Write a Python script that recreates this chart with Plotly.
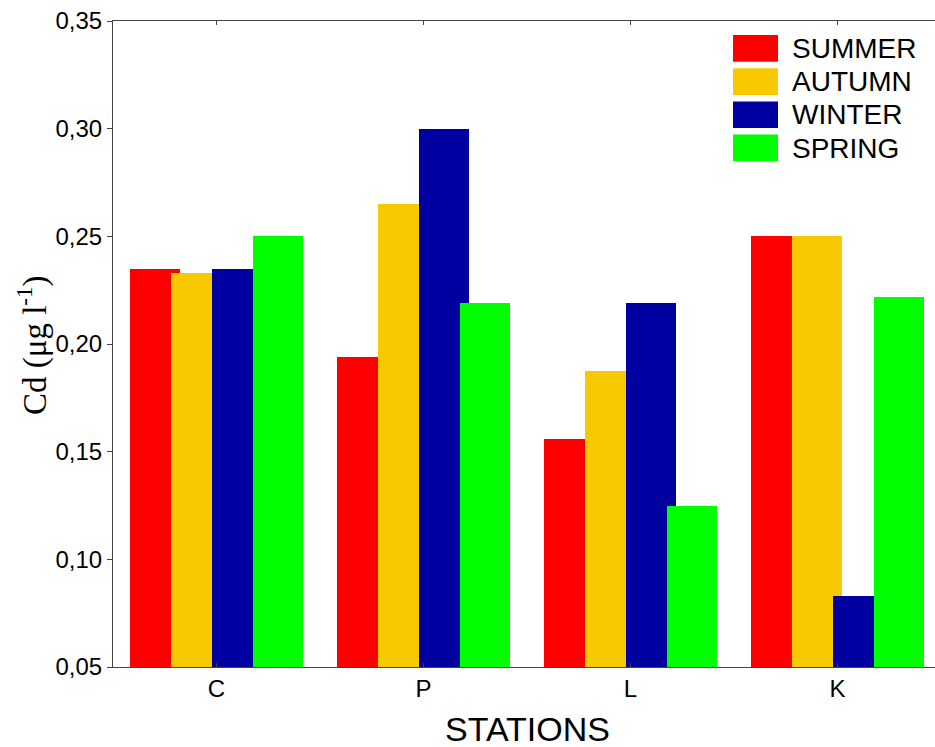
import plotly.graph_objects as go

stations = ["C", "P", "L", "K"]
seasons = ["SUMMER", "AUTUMN", "WINTER", "SPRING"]
summer = [0.235, 0.194, 0.156, 0.250]
autumn = [0.233, 0.265, 0.1875, 0.250]
winter = [0.235, 0.300, 0.219, 0.083]
spring = [0.250, 0.219, 0.125, 0.222]
series = [summer, autumn, winter, spring]
colors = ["#FF0000", "#F8C800", "#0000A0", "#00FF00"]

W, H = 935, 747
L, R, T, B = 113, 0, 21, 80
pw, ph = W - L - R, H - T - B

bar_w = 0.2415
offsets = [-0.42, -0.222, -0.024, 0.174]

fig = go.Figure()
for name, vals, col, off in zip(seasons, series, colors, offsets):
    fig.add_trace(go.Bar(
        x=stations, y=vals, name=name, width=bar_w, offset=off,
        marker=dict(color=col, line=dict(width=0)), showlegend=False,
    ))

def px_x(p):
    return (p - L) / pw

def px_y(p):
    return (H - B - p) / ph

shapes = []
annotations = []
for i, (name, col) in enumerate(zip(seasons, colors)):
    top = 35 + i * 33.2
    shapes.append(dict(type="rect", xref="paper", yref="paper",
                       x0=px_x(733), x1=px_x(778), y0=px_y(top + 26.7), y1=px_y(top),
                       fillcolor=col, line=dict(width=0)))
    annotations.append(dict(text=name, xref="paper", yref="paper",
                            x=px_x(790), y=px_y(top + 13.5), xanchor="left", yanchor="middle",
                            showarrow=False, font=dict(family="Liberation Sans", size=28, color="black")))

annotations.append(dict(text="STATIONS", xref="paper", yref="paper", x=px_x(527), y=px_y(729),
                        xanchor="center", yanchor="middle", showarrow=False,
                        font=dict(family="Liberation Sans", size=34, color="black")))
annotations.append(dict(text="Cd (μg l<sup>-1</sup>)", xref="paper", yref="paper", x=px_x(32), y=px_y(345),
                        xanchor="center", yanchor="middle", showarrow=False, textangle=-90,
                        font=dict(family="Liberation Serif", size=33, color="black")))

fig.update_layout(
    width=W, height=H, margin=dict(l=L, r=R, t=T, b=B, pad=0),
    paper_bgcolor="white", plot_bgcolor="white",
    barmode="overlay", bargap=0,
    shapes=shapes, annotations=annotations,
    font=dict(family="Liberation Sans", size=24, color="black"),
)
fig.update_xaxes(range=[-0.5, 3.471], showline=True, linecolor="#444", linewidth=1.2, mirror="ticks",
                 ticks="inside", ticklen=4, tickcolor="#444", showgrid=False, zeroline=False,
                 tickfont=dict(size=24, color="black"))
fig.update_yaxes(range=[0.05, 0.35], tickvals=[0.05, 0.10, 0.15, 0.20, 0.25, 0.30, 0.35],
                 ticktext=["0,05", "0,10", "0,15", "0,20", "0,25", "0,30", "0,35"],
                 showline=True, linecolor="#444", linewidth=1.2, mirror=False,
                 ticks="outside", ticklen=5, tickcolor="#444", showgrid=False, zeroline=False,
                 tickfont=dict(size=24, color="black"))

fig.write_html("out.html")
